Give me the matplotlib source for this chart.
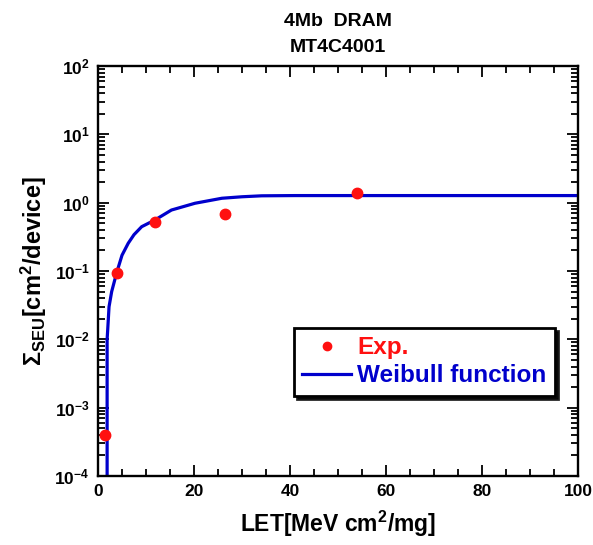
import matplotlib
matplotlib.use("Agg")
import matplotlib.pyplot as plt
from matplotlib.ticker import MultipleLocator, LogLocator, NullFormatter

plt.rcParams["font.family"] = ["Liberation Sans", "DejaVu Sans"]
plt.rcParams["font.weight"] = "bold"
plt.rcParams["mathtext.fontset"] = "custom"
plt.rcParams["mathtext.rm"] = "Liberation Sans:bold"
plt.rcParams["mathtext.it"] = "Liberation Sans:bold"
plt.rcParams["mathtext.bf"] = "Liberation Sans:bold"

# measured SEU cross sections
let_exp = [1.5, 4.0, 11.9, 26.5, 54.0]
sigma_exp = [4.0e-4, 0.095, 0.53, 0.69, 1.39]

# Weibull fit curve
let_fit = [1.9, 1.9, 2.0, 2.3, 2.85, 3.9, 5.0, 6.3, 7.5, 9.1, 11.9, 15.3,
           20.2, 25.8, 30.0, 34.1, 41.0, 60.0, 80.0, 100.0]
sigma_fit = [1e-4, 1e-2, 0.013, 0.03, 0.05, 0.095, 0.17, 0.255, 0.34, 0.445,
             0.56, 0.78, 0.98, 1.16, 1.22, 1.26, 1.27, 1.27, 1.27, 1.27]

RED = "#ff1010"
BLUE = "#0000cc"

fig = plt.figure(figsize=(5.93, 5.45), dpi=100)
ax = fig.add_axes([98 / 593, 1 - 476 / 545, 480 / 593, 410 / 545])

ax.plot(let_fit, sigma_fit, color=BLUE, lw=2.3, label="Weibull function", zorder=2)
ax.plot(let_exp, sigma_exp, "o", color=RED, ms=7.5, label="Exp.", zorder=3)

ax.set_yscale("log")
ax.set_xlim(0, 100)
ax.set_ylim(1e-4, 1e2)

ax.xaxis.set_major_locator(MultipleLocator(20))
ax.xaxis.set_minor_locator(MultipleLocator(5))
ax.yaxis.set_major_locator(LogLocator(base=10, numticks=10))
ax.yaxis.set_minor_locator(LogLocator(base=10, subs=range(2, 10), numticks=20))
ax.yaxis.set_minor_formatter(NullFormatter())

ax.tick_params(which="both", direction="in", top=True, right=True,
               labelsize=12.5, width=1.3, pad=6)
ax.tick_params(which="major", length=8)
ax.tick_params(which="minor", length=5)
for s in ax.spines.values():
    s.set_linewidth(1.7)

ax.set_xlabel("LET[MeV cm$^2$/mg]", fontsize=16.5, fontweight="bold", labelpad=7)
ax.set_ylabel(r"$\Sigma_{SEU}$[cm$^2$/device]", fontsize=17, fontweight="bold", labelpad=4)
ax.set_title("4Mb  DRAM\nMT4C4001", fontsize=14, fontweight="bold", pad=10, linespacing=1.7)

handles, labels = ax.get_legend_handles_labels()
leg = ax.legend(handles[::-1], labels[::-1], loc="upper left",
                bbox_to_anchor=(0.408, 0.361), borderaxespad=0,
                fontsize=17.5, frameon=True, fancybox=False, handlelength=2.0,
                handletextpad=0.25, borderpad=0.35, labelspacing=0.2,
                shadow={"color": "black", "alpha": 0.85}, markerscale=0.8)
leg.get_frame().set_edgecolor("black")
leg.get_frame().set_linewidth(2.0)
for txt, c in zip(leg.get_texts(), [RED, BLUE]):
    txt.set_color(c)
    txt.set_fontweight("bold")

fig.savefig("out.png", dpi=100)
